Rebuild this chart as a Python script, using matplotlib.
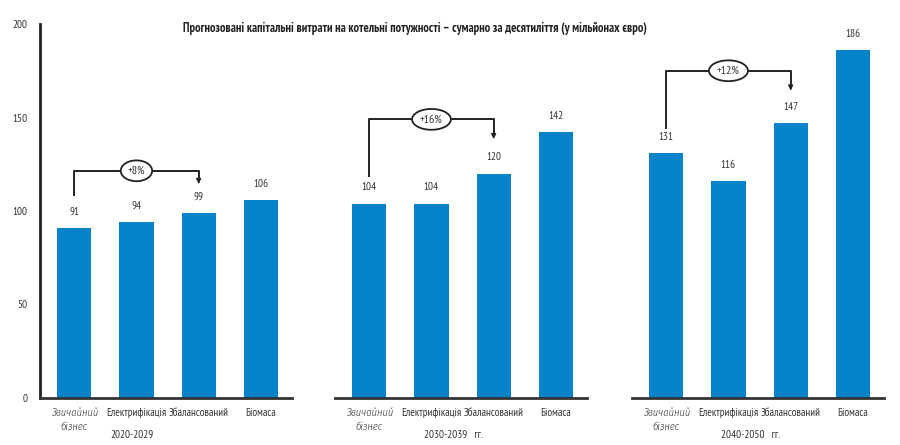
import matplotlib
matplotlib.use("Agg")
import matplotlib.pyplot as plt

plt.rcParams['font.family'] = ['PT Sans Narrow', 'DejaVu Sans']
ITALIC_FONT = ['Fira Sans Condensed', 'Roboto Condensed', 'DejaVu Sans']

TITLE = 'Прогнозовані капітальні витрати на котельні потужності – сумарно за десятиліття (у мільйонах євро)'
categories = ['Звичайний\nбізнес', 'Електрифікація', 'Збалансований', 'Біомаса']
periods = ['2020-2029', '2030-2039   гг.', '2040-2050   гг.']
values_2020 = [91, 94, 99, 106]
values_2030 = [104, 104, 120, 142]
values_2040 = [131, 116, 147, 186]
growth = ['+8%', '+16%', '+12%']
# bracket levels: start above first bar, horizontal line, arrow end
bracket_start = [108, 118, 144]
bracket_top = [121.5, 149, 175]
bracket_end = [113, 137, 163]

BLUE = '#0683c9'
all_values = [values_2020, values_2030, values_2040]

fig = plt.figure(figsize=(9, 4.45), dpi=100)
lefts = [40 / 900, 335 / 900, 632 / 900]
bottom = 1 - 398 / 445
height = 374 / 445
width = 252 / 900
period_x = [0.93, 1.35, 1.35]

for i, vals in enumerate(all_values):
    ax = fig.add_axes([lefts[i], bottom, width, height])
    x = list(range(len(vals)))
    ax.bar(x, vals, width=0.55, color=BLUE)
    for xi, v in zip(x, vals):
        ax.text(xi, v + 6, str(v), ha='center', va='bottom', fontsize=8, color='#333333')
    ax.set_xlim(-0.55, 3.5)
    ax.set_ylim(0, 200)
    for s in ['top', 'right']:
        ax.spines[s].set_visible(False)
    ax.spines['bottom'].set_linewidth(2)
    ax.spines['bottom'].set_color('#333333')
    if i == 0:
        ax.spines['left'].set_linewidth(2)
        ax.spines['left'].set_color('#222222')
        ax.set_yticks([0, 50, 100, 150, 200])
        ax.tick_params(axis='y', length=0, pad=9, labelsize=8, labelcolor='#333333')
    else:
        ax.spines['left'].set_visible(False)
        ax.set_yticks([])
    ax.set_xticks(x)
    ax.set_xticklabels(categories, fontsize=8, color='#333333')
    ax.tick_params(axis='x', length=0, pad=7)
    first = ax.get_xticklabels()[0]
    first.set_fontstyle('italic')
    first.set_family(ITALIC_FONT)
    first.set_fontweight(300)
    first.set_fontsize(7.5)
    first.set_linespacing(1.4)

    # bracket with arrow
    ax.plot([0, 0, 2, 2], [bracket_start[i], bracket_top[i], bracket_top[i], bracket_end[i] + 3],
            color='#222222', lw=1.4, solid_capstyle='butt')
    ax.annotate('', xy=(2, bracket_end[i]), xytext=(2, bracket_end[i] + 4),
                arrowprops=dict(arrowstyle='-|>', color='#222222', lw=1, mutation_scale=7))
    ax.text(1, bracket_top[i], growth[i], ha='center', va='center', fontsize=8.5, color='#333333',
            bbox=dict(boxstyle='ellipse,pad=0.2', fc='white', ec='#222222', lw=1.3))

    ax.text(period_x[i], -0.085, periods[i], transform=ax.get_xaxis_transform(),
            ha='center', va='top', fontsize=8, color='#333333')

fig.text(415 / 900, 1 - 28 / 445, TITLE, ha='center', va='center', fontsize=9,
         fontweight='bold', color='#222222')

fig.savefig('out.png', dpi=100, facecolor='white')
